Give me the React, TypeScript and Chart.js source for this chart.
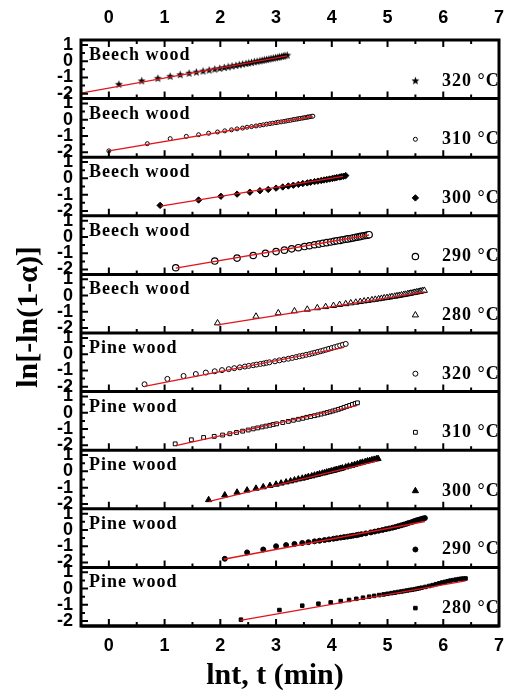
import React, { useEffect, useRef } from 'react';
import { Chart, registerables } from 'chart.js';
import { drawPoint } from 'chart.js/helpers';

Chart.register(...registerables);

// ---------- axes ----------
const X_MIN = -0.5;
const X_MAX = 7;
const Y_MIN = -2.3;
const Y_MAX = 1.3;
const xTicks = [0, 1, 2, 3, 4, 5, 6, 7];
const xMinorTicks = [0.5, 1.5, 2.5, 3.5, 4.5, 5.5, 6.5];
const yTicks = [-2, -1, 0, 1];
const yMinorTicks = [-1.5, -0.5, 0.5];

// ---------- panel labels ----------
const woods = ['Beech wood', 'Beech wood', 'Beech wood', 'Beech wood', 'Beech wood',
  'Pine wood', 'Pine wood', 'Pine wood', 'Pine wood', 'Pine wood'];
const temps = ['320', '310', '300', '290', '280', '320', '310', '300', '290', '280'];
const legendX = 5.5;
const legendY = -1.2;

// ---------- data (x = ln t, y = ln[-ln(1-alpha)]) ----------
const beech320X = [0.18, 0.59, 0.88, 1.10, 1.28, 1.44, 1.57, 1.69, 1.80, 1.90, 1.99, 2.07, 2.14, 2.21, 2.28, 2.34, 2.40, 2.46, 2.51, 2.56, 2.61, 2.66, 2.71, 2.75, 2.79, 2.83, 2.87, 2.91, 2.95, 2.99, 3.03, 3.06, 3.10, 3.13, 3.16, 3.20];
const beech320Y = [-1.42, -1.21, -1.05, -0.93, -0.83, -0.74, -0.67, -0.61, -0.55, -0.49, -0.44, -0.39, -0.35, -0.30, -0.26, -0.22, -0.18, -0.14, -0.11, -0.08, -0.04, -0.01, 0.02, 0.05, 0.08, 0.10, 0.13, 0.16, 0.19, 0.21, 0.24, 0.26, 0.29, 0.31, 0.34, 0.37];
const beech320FitX = [-0.5, 3.2];
const beech320FitY = [-1.96, 0.33];

const beech310X = [0, 0.69, 1.10, 1.39, 1.61, 1.79, 1.95, 2.08, 2.20, 2.30, 2.40, 2.48, 2.56, 2.64, 2.71, 2.77, 2.83, 2.89, 2.94, 3.00, 3.04, 3.09, 3.14, 3.18, 3.22, 3.26, 3.30, 3.33, 3.37, 3.40, 3.43, 3.47, 3.50, 3.53, 3.56, 3.58, 3.61, 3.64, 3.66];
const beech310Y = [-1.91, -1.47, -1.16, -1.02, -0.92, -0.83, -0.75, -0.68, -0.62, -0.56, -0.51, -0.46, -0.42, -0.38, -0.34, -0.31, -0.27, -0.24, -0.21, -0.18, -0.15, -0.13, -0.10, -0.08, -0.05, -0.03, 0.00, 0.02, 0.04, 0.06, 0.08, 0.10, 0.12, 0.14, 0.16, 0.17, 0.19, 0.21, 0.22];
const beech310FitX = [0, 3.66];
const beech310FitY = [-1.91, 0.20];

const beech300X = [0.92, 1.61, 2.01, 2.30, 2.53, 2.71, 2.86, 3.00, 3.12, 3.22, 3.31, 3.40, 3.48, 3.56, 3.62, 3.69, 3.75, 3.81, 3.86, 3.91, 3.96, 4.01, 4.05, 4.09, 4.14, 4.17, 4.21, 4.25];
const beech300Y = [-1.66, -1.33, -1.10, -0.97, -0.85, -0.76, -0.68, -0.60, -0.53, -0.47, -0.42, -0.37, -0.32, -0.28, -0.24, -0.20, -0.17, -0.13, -0.10, -0.07, -0.04, -0.01, 0.02, 0.05, 0.08, 0.10, 0.13, 0.17];
const beech300FitX = [0.93, 4.2];
const beech300FitY = [-1.70, 0.12];

const beech290X = [1.20, 1.90, 2.30, 2.59, 2.81, 3.00, 3.15, 3.28, 3.40, 3.51, 3.60, 3.69, 3.77, 3.84, 3.91, 3.98, 4.04, 4.09, 4.15, 4.20, 4.25, 4.29, 4.34, 4.38, 4.42, 4.46, 4.50, 4.53, 4.57, 4.61, 4.64, 4.67];
const beech290Y = [-1.89, -1.48, -1.30, -1.14, -1.01, -0.90, -0.81, -0.73, -0.66, -0.59, -0.54, -0.48, -0.44, -0.39, -0.35, -0.31, -0.27, -0.24, -0.21, -0.17, -0.14, -0.12, -0.09, -0.06, -0.03, -0.01, 0.02, 0.04, 0.07, 0.09, 0.11, 0.14];
const beech290FitX = [1.2, 4.67];
const beech290FitY = [-1.92, 0.12];

const beech280X = [1.95, 2.64, 3.04, 3.33, 3.56, 3.74, 3.89, 4.03, 4.14, 4.25, 4.34, 4.43, 4.51, 4.58, 4.65, 4.72, 4.78, 4.84, 4.89, 4.94, 4.99, 5.04, 5.08, 5.13, 5.17, 5.21, 5.25, 5.29, 5.32, 5.36, 5.39, 5.42, 5.46, 5.49, 5.52, 5.55, 5.58, 5.60, 5.63, 5.66];
const beech280Y = [-1.69, -1.28, -1.07, -0.95, -0.85, -0.76, -0.69, -0.62, -0.56, -0.51, -0.46, -0.42, -0.38, -0.34, -0.31, -0.27, -0.24, -0.21, -0.18, -0.15, -0.13, -0.10, -0.07, -0.05, -0.02, 0.00, 0.03, 0.05, 0.07, 0.10, 0.12, 0.14, 0.17, 0.19, 0.21, 0.23, 0.25, 0.27, 0.29, 0.31];
const beech280FitX = [1.95, 5.67];
const beech280FitY = [-1.80, 0.22];

const pine320X = [0.64, 1.05, 1.34, 1.56, 1.74, 1.90, 2.03, 2.15, 2.25, 2.35, 2.44, 2.51, 2.59, 2.65, 2.72, 2.78, 2.83, 2.88, 2.98, 3.06, 3.14, 3.22, 3.29, 3.36, 3.42, 3.48, 3.54, 3.60, 3.65, 3.70, 3.75, 3.80, 3.85, 3.90, 3.95, 4.00, 4.05, 4.10, 4.15, 4.20, 4.25];
const pine320Y = [-1.85, -1.52, -1.34, -1.22, -1.13, -1.05, -0.98, -0.92, -0.86, -0.81, -0.76, -0.72, -0.68, -0.64, -0.60, -0.57, -0.53, -0.50, -0.44, -0.38, -0.33, -0.28, -0.23, -0.18, -0.13, -0.09, -0.04, 0.00, 0.05, 0.09, 0.14, 0.18, 0.23, 0.28, 0.33, 0.38, 0.43, 0.48, 0.53, 0.58, 0.63];
const pine320FitX = [0.64, 4.22];
const pine320FitY = [-1.98, 0.42];

const pine310X = [1.19, 1.48, 1.70, 1.89, 2.04, 2.17, 2.29, 2.40, 2.50, 2.59, 2.67, 2.75, 2.82, 2.89, 2.95, 3.01, 3.12, 3.22, 3.31, 3.40, 3.48, 3.55, 3.62, 3.69, 3.75, 3.81, 3.87, 3.92, 3.97, 4.02, 4.07, 4.12, 4.17, 4.22, 4.27, 4.32, 4.37, 4.42, 4.46];
const pine310Y = [-1.91, -1.66, -1.52, -1.45, -1.37, -1.29, -1.21, -1.13, -1.06, -0.99, -0.93, -0.87, -0.82, -0.77, -0.72, -0.68, -0.60, -0.53, -0.46, -0.40, -0.34, -0.28, -0.23, -0.18, -0.13, -0.08, -0.03, 0.02, 0.06, 0.11, 0.16, 0.21, 0.27, 0.33, 0.39, 0.45, 0.51, 0.57, 0.61];
const pine310FitX = [1.22, 4.45];
const pine310FitY = [-2.01, 0.44];

const pine300X = [1.79, 2.08, 2.30, 2.48, 2.64, 2.77, 2.89, 3.00, 3.09, 3.18, 3.26, 3.33, 3.40, 3.47, 3.53, 3.58, 3.64, 3.69, 3.74, 3.78, 3.83, 3.87, 3.91, 3.95, 3.99, 4.03, 4.06, 4.09, 4.13, 4.16, 4.19, 4.25, 4.30, 4.36, 4.41, 4.46, 4.51, 4.55, 4.60, 4.64, 4.68, 4.72, 4.76, 4.80, 4.83];
const pine300Y = [-1.75, -1.46, -1.29, -1.16, -1.05, -0.96, -0.88, -0.80, -0.73, -0.66, -0.60, -0.54, -0.48, -0.43, -0.38, -0.33, -0.29, -0.24, -0.20, -0.16, -0.12, -0.09, -0.05, -0.02, 0.02, 0.05, 0.08, 0.11, 0.14, 0.17, 0.20, 0.26, 0.31, 0.36, 0.41, 0.46, 0.51, 0.55, 0.59, 0.63, 0.66, 0.70, 0.73, 0.76, 0.78];
const pine300FitX = [1.8, 4.82];
const pine300FitY = [-1.85, 0.64];

const pine290X = [2.08, 2.48, 2.77, 3.00, 3.18, 3.33, 3.47, 3.58, 3.69, 3.78, 3.87, 3.95, 4.03, 4.09, 4.16, 4.22, 4.28, 4.33, 4.38, 4.44, 4.48, 4.53, 4.61, 4.70, 4.77, 4.84, 4.91, 4.97, 5.03, 5.09, 5.14, 5.19, 5.24, 5.29, 5.34, 5.38, 5.43, 5.47, 5.51, 5.55, 5.59, 5.63, 5.67];
const pine290Y = [-1.77, -1.38, -1.20, -1.00, -0.93, -0.86, -0.80, -0.75, -0.70, -0.66, -0.62, -0.58, -0.54, -0.51, -0.47, -0.44, -0.41, -0.38, -0.35, -0.32, -0.29, -0.26, -0.21, -0.15, -0.10, -0.05, 0.00, 0.05, 0.09, 0.14, 0.18, 0.23, 0.28, 0.33, 0.38, 0.43, 0.48, 0.53, 0.58, 0.62, 0.66, 0.70, 0.73];
const pine290FitX = [2.06, 5.67];
const pine290FitY = [-1.80, 0.52];

const pine280X = [2.37, 3.06, 3.47, 3.76, 3.98, 4.16, 4.31, 4.44, 4.56, 4.67, 4.76, 4.85, 4.93, 5.00, 5.07, 5.13, 5.19, 5.25, 5.30, 5.35, 5.40, 5.44, 5.49, 5.53, 5.57, 5.61, 5.68, 5.75, 5.81, 5.87, 5.93, 5.98, 6.03, 6.08, 6.13, 6.18, 6.23, 6.28, 6.32, 6.36, 6.40];
const pine280Y = [-1.91, -1.32, -1.05, -0.93, -0.85, -0.77, -0.70, -0.63, -0.56, -0.50, -0.45, -0.40, -0.36, -0.32, -0.28, -0.25, -0.21, -0.18, -0.15, -0.12, -0.09, -0.07, -0.04, -0.01, 0.02, 0.05, 0.10, 0.16, 0.21, 0.27, 0.32, 0.37, 0.41, 0.45, 0.49, 0.52, 0.55, 0.58, 0.60, 0.61, 0.62];
const pine280FitX = [2.36, 6.4];
const pine280FitY = [-1.95, 0.47];

const seriesX = [beech320X, beech310X, beech300X, beech290X, beech280X, pine320X, pine310X, pine300X, pine290X, pine280X];
const seriesY = [beech320Y, beech310Y, beech300Y, beech290Y, beech280Y, pine320Y, pine310Y, pine300Y, pine290Y, pine280Y];
const fitX = [beech320FitX, beech310FitX, beech300FitX, beech290FitX, beech280FitX, pine320FitX, pine310FitX, pine300FitX, pine290FitX, pine280FitX];
const fitY = [beech320FitY, beech310FitY, beech300FitY, beech290FitY, beech280FitY, pine320FitY, pine310FitY, pine300FitY, pine290FitY, pine280FitY];

// ---------- styles ----------
type Marker = { style: any; radius: number; filled: boolean; bw: number };

function makeStar(): HTMLCanvasElement {
  const c = document.createElement('canvas');
  c.width = 9; c.height = 9;
  const g = c.getContext('2d')!;
  g.fillStyle = '#000';
  g.beginPath();
  for (let i = 0; i < 10; i++) {
    const r = i % 2 === 0 ? 4.2 : 1.8;
    const a = -Math.PI / 2 + (i * Math.PI) / 5;
    const px = 4.5 + r * Math.cos(a);
    const py = 4.8 + r * Math.sin(a);
    if (i === 0) g.moveTo(px, py); else g.lineTo(px, py);
  }
  g.closePath();
  g.fill();
  return c;
}

const font = (size: number, family: string) => ({ size, family, weight: 'bold' as const });

export default function App() {
  const ref = useRef<HTMLCanvasElement>(null);

  useEffect(() => {
    const star = makeStar();
    const markers: Marker[] = [
      { style: star, radius: 4.5, filled: true, bw: 0 },
      { style: 'circle', radius: 2, filled: false, bw: 1 },
      { style: 'rectRot', radius: 3.2, filled: true, bw: 1 },
      { style: 'circle', radius: 3.2, filled: false, bw: 1.2 },
      { style: 'triangle', radius: 3.6, filled: false, bw: 1 },
      { style: 'circle', radius: 2.5, filled: false, bw: 1 },
      { style: 'rect', radius: 2.7, filled: false, bw: 1 },
      { style: 'triangle', radius: 3.6, filled: true, bw: 1 },
      { style: 'circle', radius: 2.5, filled: true, bw: 1 },
      { style: 'rect', radius: 2.5, filled: true, bw: 1 },
    ];
    const n = seriesX.length;

    const datasets: any[] = [];
    for (let i = 0; i < n; i++) {
      const m = markers[i];
      datasets.push({
        label: woods[i] + ' ' + temps[i],
        data: seriesX[i].map((x, k) => ({ x, y: seriesY[i][k] })),
        xAxisID: 'x',
        yAxisID: 'y' + i,
        showLine: false,
        pointStyle: m.style,
        pointRadius: m.radius,
        pointBorderWidth: m.bw,
        pointBackgroundColor: m.filled ? '#000' : '#fff',
        pointBorderColor: '#000',
        order: 2,
      });
      datasets.push({
        label: 'fit ' + i,
        data: fitX[i].map((x, k) => ({ x, y: fitY[i][k] })),
        xAxisID: 'x',
        yAxisID: 'y' + i,
        showLine: true,
        pointRadius: 0,
        borderColor: '#e0151b',
        borderWidth: 1.3,
        order: 1,
      });
    }

    const setX = (s: any) => { s.ticks = xTicks.map((v) => ({ value: v })); };
    const setY = (s: any) => { s.ticks = yTicks.map((v) => ({ value: v })); };

    const scales: any = {
      xTop: {
        type: 'linear', position: 'top', min: X_MIN, max: X_MAX,
        grid: { display: false, drawTicks: false }, border: { display: false },
        ticks: { font: font(18, 'Liberation Sans'), color: '#000', padding: 11, autoSkip: false, maxRotation: 0 },
        afterBuildTicks: setX,
        afterFit: (s: any) => { s.height = 40; },
      },
      x: {
        type: 'linear', position: 'bottom', min: X_MIN, max: X_MAX,
        grid: { display: false, drawTicks: false }, border: { display: false },
        ticks: { font: font(18, 'Liberation Sans'), color: '#000', padding: 9, autoSkip: false, maxRotation: 0 },
        afterBuildTicks: setX,
        afterFit: (s: any) => { s.height = 65; },
      },
    };
    // Stacked left axes are laid out last-added on top, so add them bottom panel first.
    for (let i = n - 1; i >= 0; i--) {
      scales['y' + i] = {
        type: 'linear', position: 'left', stack: 'panels', stackWeight: 1,
        min: Y_MIN, max: Y_MAX,
        grid: { display: false, drawTicks: false }, border: { display: false },
        ticks: { font: font(18, 'Liberation Sans'), color: '#000', padding: 8, autoSkip: false },
        afterBuildTicks: setY,
        afterFit: (s: any) => { s.width = 81; },
      };
    }

    const framePlugin = {
      id: 'framePlugin',
      afterDatasetsDraw(chart: any) {
        const ctx = chart.ctx as CanvasRenderingContext2D;
        const ca = chart.chartArea;
        const xs = chart.scales.x;
        const panels = Array.from({ length: n }, (_, i) => chart.scales['y' + i]);
        const topPanel = panels.reduce((a: any, b: any) => (b.top < a.top ? b : a));
        ctx.save();
        ctx.strokeStyle = '#000';
        ctx.fillStyle = '#000';
        ctx.lineCap = 'butt';
        for (let i = 0; i < n; i++) {
          const ys = panels[i];
          // inward tick marks
          ctx.lineWidth = 2;
          ctx.beginPath();
          for (const v of xTicks) {
            const px = xs.getPixelForValue(v);
            ctx.moveTo(px, ys.bottom); ctx.lineTo(px, ys.bottom - 7);
            if (ys === topPanel) { ctx.moveTo(px, ys.top); ctx.lineTo(px, ys.top + 7); }
          }
          for (const v of xMinorTicks) {
            const px = xs.getPixelForValue(v);
            ctx.moveTo(px, ys.bottom); ctx.lineTo(px, ys.bottom - 4);
            if (ys === topPanel) { ctx.moveTo(px, ys.top); ctx.lineTo(px, ys.top + 4); }
          }
          for (const v of yTicks) {
            const py = ys.getPixelForValue(v);
            ctx.moveTo(ca.left, py); ctx.lineTo(ca.left + 7, py);
          }
          for (const v of yMinorTicks) {
            const py = ys.getPixelForValue(v);
            ctx.moveTo(ca.left, py); ctx.lineTo(ca.left + 4, py);
          }
          ctx.stroke();
          // separator
          ctx.lineWidth = 3;
          ctx.beginPath();
          ctx.moveTo(ca.left, ys.bottom); ctx.lineTo(ca.right, ys.bottom);
          ctx.stroke();
          // wood label
          ctx.font = 'bold 18px "Liberation Serif"';
          (ctx as any).letterSpacing = '1px';
          ctx.textAlign = 'left';
          ctx.textBaseline = 'alphabetic';
          ctx.fillText(woods[i], ca.left + 8, ys.top + 20);
          // temperature label
          ctx.fillText(temps[i] + ' °C', ca.right - 57, ys.getPixelForValue(-1.5));
          (ctx as any).letterSpacing = '0px';
          // legend marker
          const m = markers[i];
          ctx.fillStyle = m.filled ? '#000' : '#fff';
          ctx.strokeStyle = '#000';
          ctx.lineWidth = m.bw;
          drawPoint(ctx, { pointStyle: m.style, rotation: 0, radius: m.radius, borderWidth: m.bw } as any,
            xs.getPixelForValue(legendX), ys.getPixelForValue(legendY));
          ctx.fillStyle = '#000';
        }
        // outer frame
        ctx.lineWidth = 3;
        ctx.strokeRect(ca.left, ca.top, ca.right - ca.left, ca.bottom - ca.top);
        // axis titles
        ctx.font = 'bold 30px "Liberation Serif"';
        ctx.textAlign = 'center';
        ctx.textBaseline = 'middle';
        ctx.fillText('lnt, t (min)', (ca.left + ca.right) / 2 - 15, ca.bottom + 50);
        ctx.save();
        ctx.translate(29, ca.top + 277);
        ctx.rotate(-Math.PI / 2);
        ctx.fillText('ln[-ln(1-α)]', 0, 0);
        ctx.restore();
        ctx.restore();
      },
    };

    const chart = new Chart(ref.current!, {
      type: 'scatter',
      data: { datasets },
      options: {
        responsive: false,
        animation: false,
        events: [],
        layout: { padding: { left: 0, right: 4, top: 0, bottom: 0 } },
        plugins: { legend: { display: false }, tooltip: { enabled: false } },
        scales,
      },
      plugins: [framePlugin],
    } as any);
    return () => chart.destroy();
  }, []);

  return (
    <div style={{ position: 'absolute', left: 0, top: 0, width: 515, height: 691, background: '#fff' }}>
      <canvas ref={ref} width={515} height={691} style={{ display: 'block' }} />
    </div>
  );
}
